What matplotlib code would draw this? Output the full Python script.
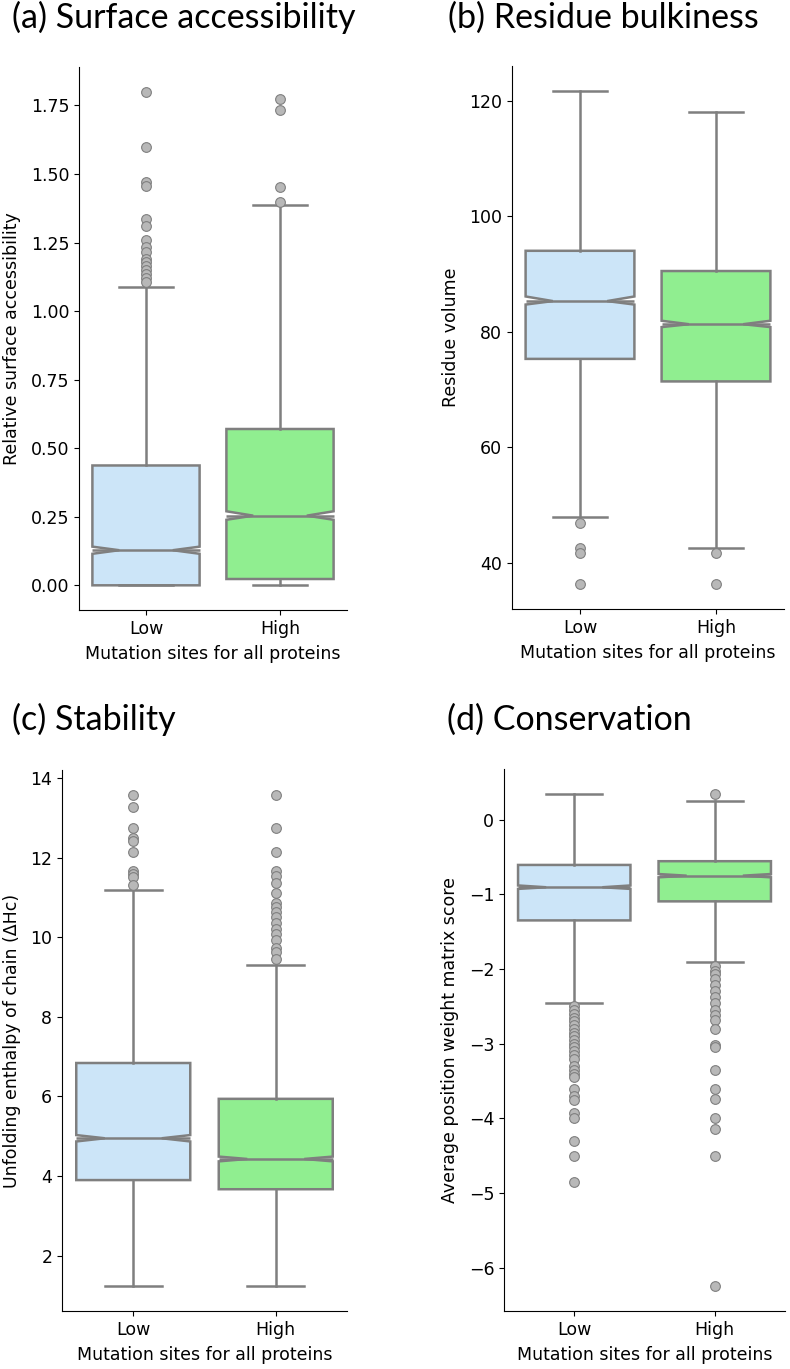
import matplotlib
matplotlib.use("Agg")
import matplotlib.pyplot as plt

labels = ["Low", "High"]

# (a) surface accessibility
rsa_med = [0.128, 0.254]
rsa_q1 = [0.0, 0.023]
rsa_q3 = [0.437, 0.570]
rsa_whislo = [0.0, 0.0]
rsa_whishi = [1.086, 1.387]
rsa_cilo = [0.115, 0.239]
rsa_cihi = [0.141, 0.270]
rsa_fliers_low = [1.80, 1.60, 1.47, 1.455, 1.335, 1.31, 1.26, 1.235, 1.215, 1.19,
                  1.18, 1.165, 1.15, 1.135, 1.12, 1.105]
rsa_fliers_high = [1.773, 1.734, 1.451, 1.398]

# (b) residue bulkiness
vol_med = [85.3, 81.3]
vol_q1 = [75.3, 71.4]
vol_q3 = [94.0, 90.5]
vol_whislo = [48.0, 42.5]
vol_whishi = [121.7, 118.0]
vol_cilo = [84.7, 80.8]
vol_cihi = [86.1, 81.9]
vol_fliers_low = [46.9, 42.5, 41.7, 36.3]
vol_fliers_high = [41.7, 36.3]

# (c) stability
stab_med = [4.95, 4.43]
stab_q1 = [3.90, 3.67]
stab_q3 = [6.84, 5.94]
stab_whislo = [1.23, 1.23]
stab_whishi = [11.19, 9.31]
stab_cilo = [4.87, 4.37]
stab_cihi = [5.03, 4.49]
stab_fliers_low = [13.58, 13.27, 12.75, 12.49, 12.42, 12.15, 11.67, 11.59, 11.5, 11.3]
stab_fliers_high = [13.58, 12.75, 12.15, 11.67, 11.54, 11.35, 11.12, 10.86, 10.76,
                    10.63, 10.5, 10.35, 10.21, 10.09, 9.93, 9.74, 9.62, 9.46]

# (d) conservation
pwm_med = [-0.904, -0.749]
pwm_q1 = [-1.348, -1.093]
pwm_q3 = [-0.605, -0.555]
pwm_whislo = [-2.45, -1.90]
pwm_whishi = [0.35, 0.25]
pwm_cilo = [-0.926, -0.771]
pwm_cihi = [-0.88, -0.727]
pwm_fliers_low = [-2.5, -2.55, -2.6, -2.65, -2.7, -2.75, -2.8, -2.85, -2.9, -2.95,
                  -3.0, -3.05, -3.1, -3.15, -3.2, -3.3, -3.35, -3.4, -3.45, -3.6,
                  -3.7, -3.75, -3.93, -4.0, -4.3, -4.5, -4.85]
pwm_fliers_high = [0.35, -1.96, -2.02, -2.07, -2.13, -2.21, -2.3, -2.38, -2.46, -2.55,
                   -2.61, -2.68, -2.8, -3.02, -3.05, -3.35, -3.6, -3.74, -4.0, -4.14,
                   -4.5, -6.25]

box_colors = ["#cce5f8", "#90ee90"]
line_gray = "#7f7f7f"


def make_stats(med, q1, q3, wlo, whi, cilo, cihi, fl_low, fl_high):
    fliers = [fl_low, fl_high]
    return [
        dict(label=labels[i], med=med[i], q1=q1[i], q3=q3[i], whislo=wlo[i],
             whishi=whi[i], cilo=cilo[i], cihi=cihi[i], fliers=fliers[i])
        for i in range(2)
    ]


panels = [
    ("(a) Surface accessibility", "Relative surface accessibility",
     make_stats(rsa_med, rsa_q1, rsa_q3, rsa_whislo, rsa_whishi, rsa_cilo, rsa_cihi,
                rsa_fliers_low, rsa_fliers_high),
     [79, 67, 347, 610], (12, 28)),
    ("(b) Residue bulkiness", "Residue volume",
     make_stats(vol_med, vol_q1, vol_q3, vol_whislo, vol_whishi, vol_cilo, vol_cihi,
                vol_fliers_low, vol_fliers_high),
     [512, 66, 784, 609], (448, 28)),
    ("(c) Stability", "Unfolding enthalpy of chain (\u0394Hc)",
     make_stats(stab_med, stab_q1, stab_q3, stab_whislo, stab_whishi, stab_cilo,
                stab_cihi, stab_fliers_low, stab_fliers_high),
     [62, 770, 347, 1311], (12, 730)),
    ("(d) Conservation", "Average position weight matrix score",
     make_stats(pwm_med, pwm_q1, pwm_q3, pwm_whislo, pwm_whishi, pwm_cilo, pwm_cihi,
                pwm_fliers_low, pwm_fliers_high),
     [504, 769, 785, 1311], (447, 730)),
]

W, H = 790, 1369
fig = plt.figure(figsize=(W / 100, H / 100), dpi=100)
plt.rcParams["font.size"] = 12.5

for title, ylabel, stats, (x0, y0, x1, y1), (tx, ty) in panels:
    ax = fig.add_axes([x0 / W, 1 - y1 / H, (x1 - x0) / W, (y1 - y0) / H])
    bp = ax.bxp(
        stats,
        positions=[0, 1],
        widths=0.8,
        shownotches=True,
        patch_artist=True,
        boxprops=dict(edgecolor=line_gray, linewidth=1.8),
        whiskerprops=dict(color=line_gray, linewidth=1.8),
        capprops=dict(color=line_gray, linewidth=1.8),
        medianprops=dict(color=line_gray, linewidth=1.8),
        flierprops=dict(marker="o", markerfacecolor="#b8b8b8",
                        markeredgecolor=line_gray, markersize=7, markeredgewidth=0.8),
    )
    for patch, c in zip(bp["boxes"], box_colors):
        patch.set_facecolor(c)
    for pos, med in zip([0, 1], bp["medians"]):
        med.set_xdata([pos - 0.4, pos + 0.4])
    ax.set_xlim(-0.5, 1.5)
    ax.set_xticks([0, 1])
    ax.set_xticklabels(labels)
    ax.set_xlabel("Mutation sites for all proteins", labelpad=5)
    ax.set_ylabel(ylabel, labelpad=7)
    ax.spines["top"].set_visible(False)
    ax.spines["right"].set_visible(False)
    fig.text(tx / W, 1 - ty / H, title, fontsize=24.5, family="Lato", va="baseline")

fig.savefig("out.png", dpi=100)
